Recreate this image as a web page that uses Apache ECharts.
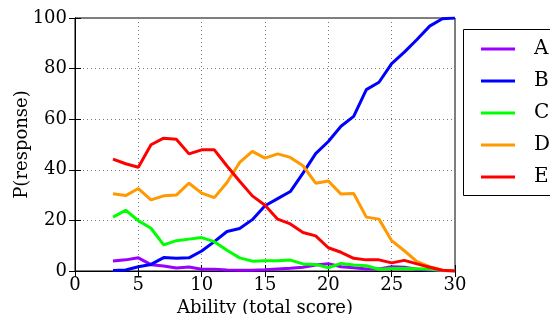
<!DOCTYPE html>
<html>
<head>
<meta charset="utf-8">
<script src="https://cdn.jsdelivr.net/npm/echarts@6/dist/echarts.min.js"></script>
<style>
html,body{margin:0;padding:0;background:#fff;}
#chart{width:550px;height:314px;}
</style>
</head>
<body>
<div id="chart"></div>
<script>
var ability = [3,4,5,6,7,8,9,10,11,12,13,14,15,16,17,18,19,20,21,22,23,24,25,26,27,28,29,30];
var seriesNames = ['A','B','C','D','E'];
var valuesA = [4.0,4.4,5.2,2.5,2.0,1.2,1.6,0.7,0.7,0.4,0.3,0.3,0.5,0.8,1.1,1.5,2.4,2.9,1.7,1.3,0.8,0.8,1.7,1.5,0.7,0.4,0.2,0];
var valuesB = [0.2,0.4,1.7,2.6,5.3,5.0,5.2,7.9,11.6,15.6,16.8,20.3,25.8,28.6,31.4,38.7,46.4,51.2,57.2,61.1,71.7,74.6,82.0,86.5,91.5,96.8,99.7,100];
var valuesC = [21.3,24.0,19.9,16.9,10.3,12.0,12.6,13.2,11.6,8.2,5.2,3.9,4.1,4.1,4.3,2.8,2.6,1.3,3.0,2.4,2.1,0.7,1.0,1.0,0.9,0.7,0.3,0];
var valuesD = [30.5,29.8,32.6,28.1,29.7,30.0,34.7,30.8,29.0,35.0,42.9,47.3,44.6,46.3,44.9,41.6,34.7,35.6,30.4,30.6,21.3,20.5,12.0,8.0,3.7,1.7,0.3,0];
var valuesE = [44.2,42.4,41.0,49.9,52.5,52.1,46.3,47.9,47.9,41.5,35.5,29.7,26.0,20.5,18.6,15.2,13.9,9.2,7.4,5.0,4.4,4.4,3.2,4.2,2.8,1.5,0.3,0];
var xTicks = [0,5,10,15,20,25,30];
var yTicks = [0,20,40,60,80,100];

var allValues = [valuesA, valuesB, valuesC, valuesD, valuesE];
var colors = ['#9900ff','#0000ff','#00ff00','#ff9900','#ff0000'];
var font = 'DejaVu Serif';

function pairs(vals){ return ability.map(function(x,i){ return [x, vals[i]]; }); }

var series = seriesNames.map(function(name, i){
  return {
    name: name, type: 'line', data: pairs(allValues[i]),
    showSymbol: false, symbol: 'none', smooth: false,
    lineStyle: {width: 3, color: colors[i]},
    itemStyle: {color: colors[i]},
    xAxisIndex: 0, yAxisIndex: 0, animation: false
  };
});

var chart = echarts.init(document.getElementById('chart'), null, {renderer: 'canvas'});
chart.setOption({
  animation: false,
  backgroundColor: '#fff',
  grid: {left: 75, right: 95, top: 18, bottom: 43, show: true, borderColor: '#000', borderWidth: 1, backgroundColor: 'transparent', containLabel: false, outerBoundsMode: 'none'},
  graphic: [{type: 'rect', left: 463, top: 29, shape: {width: 100, height: 166}, style: {fill: '#fff', stroke: '#000', lineWidth: 1}, z: 90}],
  legend: {
    orient: 'vertical', left: 476, top: 33, z: 100,
    icon: 'rect', itemWidth: 34, itemHeight: 3, itemGap: 10,
    textStyle: {fontFamily: font, fontSize: 20, color: '#000', padding: [0,0,0,14], lineHeight: 22},
    data: seriesNames
  },
  xAxis: [{
    type: 'value', min: 0, max: 30, interval: 5,
    name: 'Ability (total score)', nameLocation: 'middle', nameGap: 28, nameMoveOverlap: false,
    nameTextStyle: {fontFamily: font, fontSize: 18, color: '#000'},
    axisLine: {show: true, lineStyle: {color: '#000', width: 1}},
    axisTick: {show: true, inside: true, length: 6, lineStyle: {color: '#000'}},
    axisLabel: {fontFamily: font, fontSize: 18, color: '#000', margin: 5},
    splitLine: {show: true, lineStyle: {color: '#777', type: [1,3], width: 1}}
  },{
    type: 'value', min: 0, max: 30, interval: 5, position: 'top',
    axisLine: {show: true, lineStyle: {color: '#000'}},
    axisTick: {show: true, inside: true, length: 6, lineStyle: {color: '#000'}},
    axisLabel: {show: false}, splitLine: {show: false}
  }],
  yAxis: [{
    type: 'value', min: 0, max: 100, interval: 20,
    name: 'P(response)', nameLocation: 'middle', nameGap: 44, nameMoveOverlap: false,
    nameTextStyle: {fontFamily: font, fontSize: 18, color: '#000'},
    axisLine: {show: true, lineStyle: {color: '#000', width: 1}},
    axisTick: {show: true, inside: true, length: 6, lineStyle: {color: '#000'}},
    axisLabel: {fontFamily: font, fontSize: 18, color: '#000', margin: 8},
    splitLine: {show: true, lineStyle: {color: '#777', type: [1,3], width: 1}}
  },{
    type: 'value', min: 0, max: 100, interval: 20, position: 'right',
    axisLine: {show: true, lineStyle: {color: '#000'}},
    axisTick: {show: true, inside: true, length: 6, lineStyle: {color: '#000'}},
    axisLabel: {show: false}, splitLine: {show: false}
  }],
  series: series
});
</script>
</body>
</html>
